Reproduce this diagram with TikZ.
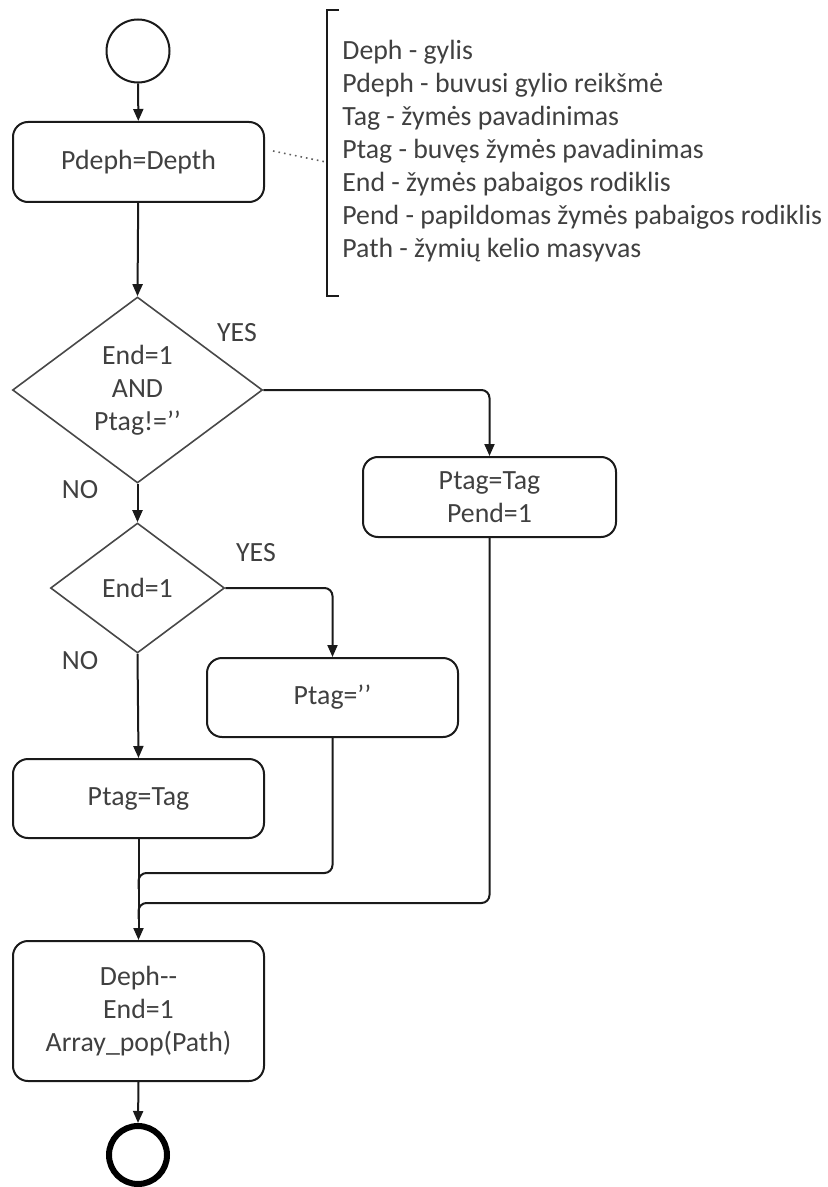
\documentclass[tikz,border=0pt]{standalone}
\usepackage{fontspec}
\setmainfont{Carlito}
\usetikzlibrary{shapes.geometric,arrows.meta}
\definecolor{txt}{HTML}{404040}
\definecolor{ln}{HTML}{1A1A1A}
\begin{document}
\begin{tikzpicture}[x=0.5pt,y=-0.5pt,
  every node/.style={font=\fontsize{13.9}{16.5}\selectfont, text=txt},
  procbox/.style={draw=ln, line width=1pt, rounded corners=7.5pt, minimum width=125.5pt, align=center, inner sep=0pt},
  decis/.style={draw=ln!80, line width=0.8pt, shape=diamond, inner sep=0pt},
  arr/.style={draw=ln, line width=1pt, -{Triangle[length=6pt,width=5pt]}},
  conn/.style={draw=ln, line width=1pt, rounded corners=4pt},
  lbl/.style={inner sep=0pt}]
\useasboundingbox (0,0) rectangle (828,1187);

% start / end
\node[draw=ln, line width=1pt, circle, minimum size=31.5pt, inner sep=0pt] (start) at (138,51) {};
\node[draw=black, line width=3pt, circle, minimum size=29pt, inner sep=0pt] (stop) at (138,1155) {};

% boxes
\node[procbox, minimum height=40pt] (b1) at (138.5,162) {Pdeph=Depth};
\node[procbox, minimum height=40pt, minimum width=126.5pt] (b2) at (489.5,497) {Ptag=Tag\\Pend=1};
\node[procbox, minimum height=39.5pt] (b3) at (332.5,697.5) {Ptag=’’};
\node[procbox, minimum height=39.5pt] (b4) at (138.5,798.5) {Ptag=Tag};
\node[procbox, minimum height=70pt] (b5) at (138.5,1011) {Deph-{}-\\End=1\\Array\_pop(Path)};

% decisions
\node[decis, minimum width=125pt, minimum height=93pt] (d1) at (137.5,390) {};
\node[lbl, align=center] (d1t) at (d1.center) {End=1\\AND\\Ptag!=’’};
\node[decis, minimum width=87pt, minimum height=65pt] (d2) at (137.5,588) {};
\node[lbl] (d2t) at (d2.center) {End=1};

% branch labels
\node[lbl] (yes1) at (237,333) {YES};
\node[lbl] (no1) at (80,490) {NO};
\node[lbl] (yes2) at (256,553) {YES};
\node[lbl] (no2) at (80,661) {NO};

% connectors
\draw[arr] (start) -- (b1);
\draw[arr] (b1) -- (d1.north);
\draw[arr, rounded corners=4pt] (d1.east) -| (b2.north);
\draw[arr] (d1.south) -- (d2.north);
\draw[arr, rounded corners=4pt] (d2.east) -| (b3.north);
\draw[arr] (d2.south) -- (b4.north);
\draw[arr] (b4.south) -- (b5.north);
\draw[arr] (b5.south) -- (stop.north);

\coordinate (m1) at (138.5,873);
\coordinate (m2) at (138.5,903);
\draw[conn] (b3.south) |- (m1) -- ++(0,16);
\draw[conn] (b2.south) |- (m2) -- ++(0,16);

% legend
\coordinate (dotA) at (273,151);
\coordinate (dotB) at (326,162);
\draw[ln!70, line width=0.8pt, dotted] (dotA) -- (dotB);
\coordinate (brT) at (339,10);
\coordinate (brB) at (339,296);
\draw[ln, line width=1pt] (brT) -- (327,10) -- (327,296) -- (brB);
\node[lbl, anchor=west, align=left] (legend) at (342,151.5) {Deph - gylis\\Pdeph - buvusi gylio reikšmė\\Tag - žymės pavadinimas\\Ptag - buvęs žymės pavadinimas\\End - žymės pabaigos rodiklis\\Pend - papildomas žymės pabaigos rodiklis\\Path - žymių kelio masyvas};
\end{tikzpicture}
\end{document}
